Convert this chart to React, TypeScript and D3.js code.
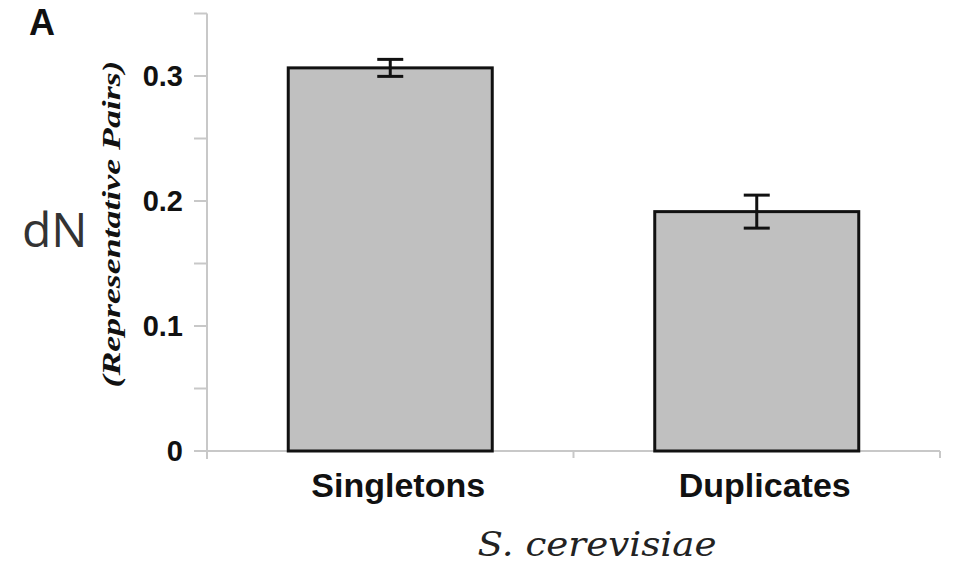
import React from "react";
import * as d3 from "d3";

const categories = ["Singletons", "Duplicates"];
const values = [0.3065, 0.1915];
const errors = [0.0068, 0.0132];
const yTicks = [0, 0.1, 0.2, 0.3];
const yMinorTicks = [0, 0.05, 0.1, 0.15, 0.2, 0.25, 0.3, 0.35];

const W = 961;
const H = 566;

export default function App() {
  const x = d3.scaleBand<string>().domain(categories).range([207, 940]).paddingInner(0).paddingOuter(0);
  const y = d3.scaleLinear().domain([0, 0.35]).range([451, 13.5]);
  const barW = 204;
  const boundaries = [207, ...categories.map((c) => (x(c) as number) + x.bandwidth())];

  return (
    <svg width={W} height={H} style={{ position: "absolute", left: 0, top: 0, background: "#fff" }}>
      <rect x={0} y={0} width={W} height={H} fill="#fff" />
      {/* y axis */}
      <line x1={207} x2={207} y1={y(0.35)} y2={y(0) + 8} stroke="#c8c8c8" strokeWidth={2} />
      {yMinorTicks.map((t) => (
        <line key={t} x1={194} x2={207} y1={y(t)} y2={y(t)} stroke="#c8c8c8" strokeWidth={2} />
      ))}
      {yTicks.map((t) => (
        <text
          key={t}
          x={183}
          y={y(t)}
          dy="0.36em"
          textAnchor="end"
          fontFamily="Liberation Sans, Arial, sans-serif"
          fontWeight="bold"
          fontSize={29}
          fill="#111"
        >
          {t === 0 ? "0" : d3.format(".1f")(t)}
        </text>
      ))}
      {/* x axis */}
      <line x1={207} x2={940} y1={y(0)} y2={y(0)} stroke="#c8c8c8" strokeWidth={2} />
      {boundaries.map((b, i) => (
        <line key={i} x1={b} x2={b} y1={y(0)} y2={y(0) + 7} stroke="#c8c8c8" strokeWidth={2} />
      ))}
      {/* bars */}
      {categories.map((c, i) => {
        const cx = (x(c) as number) + x.bandwidth() / 2;
        return (
          <g key={c}>
            <rect
              x={cx - barW / 2}
              y={y(values[i])}
              width={barW}
              height={y(0) - y(values[i])}
              fill="#c0c0c0"
              stroke="#111"
              strokeWidth={3}
            />
            <line x1={cx} x2={cx} y1={y(values[i] + errors[i])} y2={y(values[i] - errors[i])} stroke="#111" strokeWidth={3} />
            <line x1={cx - 13} x2={cx + 13} y1={y(values[i] + errors[i])} y2={y(values[i] + errors[i])} stroke="#111" strokeWidth={3} />
            <line x1={cx - 13} x2={cx + 13} y1={y(values[i] - errors[i])} y2={y(values[i] - errors[i])} stroke="#111" strokeWidth={3} />
            <text
              x={cx + 8}
              y={497}
              textAnchor="middle"
              fontFamily="Liberation Sans, Arial, sans-serif"
              fontWeight="bold"
              fontSize={34}
              fill="#111"
            >
              {c}
            </text>
          </g>
        );
      })}
      {/* axis titles */}
      <text
        x={597}
        y={556}
        textAnchor="middle"
        fontFamily="DejaVu Serif, serif"
        fontStyle="italic"
        fontSize={34}
        textLength={239}
        lengthAdjust="spacingAndGlyphs"
        fill="#222"
      >
        S. cerevisiae
      </text>
      <text
        transform="translate(120,224) rotate(-90)"
        textAnchor="middle"
        fontFamily="Liberation Serif, Times New Roman, serif"
        fontStyle="italic"
        fontWeight="bold"
        fontSize={25}
        textLength={327}
        lengthAdjust="spacingAndGlyphs"
        fill="#111"
      >
        (Representative Pairs)
      </text>
      <text x={22} y={247} fontFamily="Open Sans, DejaVu Sans, sans-serif" fontSize={48} fill="#333">
        dN
      </text>
      <text x={29} y={35} fontFamily="Liberation Sans, Arial, sans-serif" fontWeight="bold" fontSize={36} fill="#111">
        A
      </text>
    </svg>
  );
}
